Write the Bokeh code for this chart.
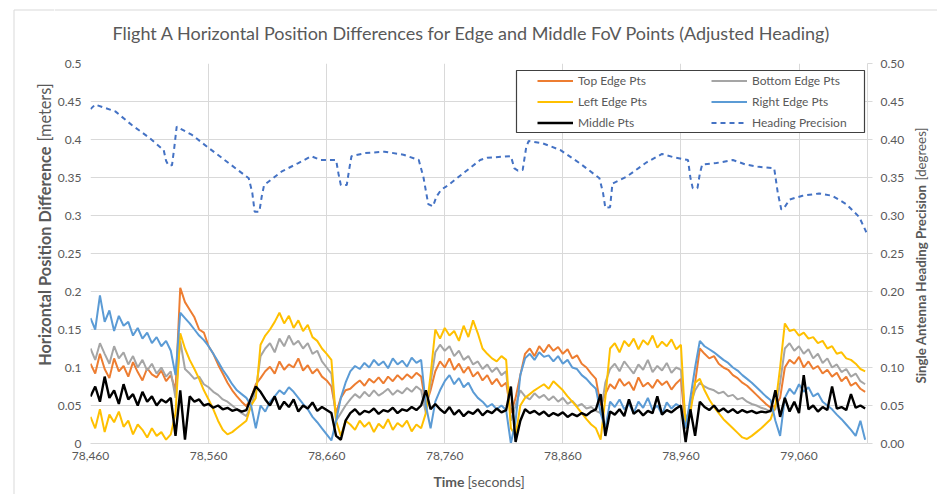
import math
from bokeh.plotting import figure
from bokeh.layouts import column, row
from bokeh.models import (Range1d, LinearAxis, FixedTicker, NumeralTickFormatter,
                          Legend, LegendItem, BoxAnnotation)
from bokeh.core.properties import value
from bokeh.embed import file_html
from bokeh.resources import INLINE

# ---------------- data ----------------
time = list(range(78460, 79117, 4))  # sampling grid [seconds]

top_edge = [
    0.105, 0.092, 0.118, 0.098, 0.086, 0.112, 0.095, 0.102, 0.088, 0.107, 0.094, 0.083, 0.099, 0.091, 0.087, 0.096, 0.082, 0.090,
    0.070,
    0.205, 0.186, 0.176, 0.166, 0.150, 0.146, 0.128, 0.118, 0.104, 0.092, 0.080, 0.070, 0.062, 0.055, 0.049,
    0.060, 0.078,
    0.086, 0.095, 0.101, 0.092, 0.108, 0.097, 0.104, 0.100, 0.112, 0.096, 0.103, 0.092, 0.098, 0.088, 0.083, 0.075,
    0.040, 0.060, 0.070,
    0.072, 0.078, 0.083, 0.076, 0.085, 0.080, 0.087, 0.079, 0.088, 0.082, 0.090, 0.084, 0.091, 0.086, 0.093, 0.088,
    0.050, 0.070,
    0.095, 0.108, 0.100, 0.112, 0.097, 0.105, 0.093, 0.101, 0.088, 0.094, 0.083, 0.090, 0.078, 0.085, 0.075, 0.080,
    0.040, 0.060, 0.090,
    0.118, 0.125, 0.115, 0.128, 0.120, 0.130, 0.122, 0.127, 0.118, 0.124, 0.112, 0.116, 0.105, 0.100, 0.092, 0.085,
    0.050, 0.065,
    0.078, 0.072, 0.085, 0.076, 0.081, 0.070, 0.087, 0.075, 0.080, 0.073, 0.084, 0.077, 0.082, 0.071, 0.079, 0.085,
    0.020, 0.050, 0.080,
    0.125, 0.118, 0.112, 0.115, 0.105, 0.100, 0.097, 0.090, 0.086, 0.080, 0.076, 0.070, 0.064, 0.058, 0.052, 0.047,
    0.050, 0.060,
    0.100, 0.110, 0.105, 0.114, 0.100, 0.108, 0.098, 0.102, 0.092, 0.097, 0.088, 0.093, 0.082, 0.088, 0.076, 0.080, 0.072, 0.068,
]

bottom_edge = [
    0.125, 0.110, 0.132, 0.118, 0.105, 0.128, 0.112, 0.120, 0.104, 0.115, 0.100, 0.110, 0.096, 0.105, 0.092, 0.100, 0.088, 0.095,
    0.060,
    0.135, 0.098, 0.092, 0.085, 0.088, 0.078, 0.074, 0.068, 0.064, 0.058, 0.055, 0.050, 0.045, 0.040, 0.036,
    0.050, 0.070,
    0.115, 0.125, 0.132, 0.120, 0.138, 0.128, 0.142, 0.130, 0.135, 0.125, 0.132, 0.118, 0.122, 0.108, 0.100, 0.092,
    0.030, 0.040, 0.050,
    0.058, 0.065, 0.060, 0.068, 0.062, 0.070, 0.063, 0.067, 0.072, 0.064, 0.070, 0.066, 0.073, 0.068, 0.075, 0.070,
    0.040, 0.080,
    0.120, 0.130, 0.122, 0.128, 0.115, 0.122, 0.110, 0.115, 0.104, 0.108, 0.098, 0.104, 0.094, 0.100, 0.090, 0.095,
    0.030, 0.050, 0.070,
    0.062, 0.058, 0.066, 0.060, 0.064, 0.057, 0.062, 0.055, 0.060, 0.052, 0.056, 0.049, 0.052, 0.046, 0.048, 0.043,
    0.040, 0.080,
    0.098, 0.105, 0.095, 0.108, 0.100, 0.092, 0.104, 0.097, 0.110, 0.094, 0.102, 0.096, 0.106, 0.093, 0.100, 0.097,
    0.030, 0.050, 0.070,
    0.080, 0.075, 0.072, 0.070, 0.066, 0.068, 0.062, 0.064, 0.058, 0.060, 0.055, 0.052, 0.050, 0.047, 0.045, 0.042,
    0.045, 0.080,
    0.125, 0.132, 0.122, 0.128, 0.118, 0.124, 0.112, 0.118, 0.106, 0.112, 0.100, 0.104, 0.094, 0.098, 0.088, 0.092, 0.082, 0.078,
]

left_edge = [
    0.035, 0.020, 0.045, 0.015, 0.038, 0.028, 0.042, 0.022, 0.030, 0.012, 0.025, 0.018, 0.008, 0.020, 0.010, 0.015, 0.005, 0.012,
    0.040,
    0.145, 0.125, 0.110, 0.098, 0.085, 0.070, 0.058, 0.045, 0.030, 0.018, 0.012, 0.015, 0.020, 0.025, 0.030,
    0.050, 0.060,
    0.130, 0.142, 0.150, 0.160, 0.172, 0.158, 0.168, 0.152, 0.162, 0.148, 0.156, 0.140, 0.135, 0.125, 0.118, 0.110,
    0.030, 0.010, 0.030,
    0.025, 0.018, 0.030, 0.022, 0.028, 0.015, 0.026, 0.020, 0.032, 0.018, 0.027, 0.022, 0.030, 0.016, 0.025, 0.020,
    0.040, 0.090,
    0.150, 0.138, 0.152, 0.142, 0.148, 0.135, 0.155, 0.140, 0.162, 0.145, 0.125, 0.118, 0.112, 0.108, 0.115, 0.110,
    0.020, 0.010, 0.050,
    0.060, 0.065, 0.070, 0.074, 0.078, 0.072, 0.082, 0.076, 0.070, 0.062, 0.055, 0.048, 0.040, 0.032, 0.025, 0.020,
    0.005, 0.060,
    0.125, 0.132, 0.120, 0.135, 0.128, 0.138, 0.124, 0.136, 0.130, 0.142, 0.126, 0.134, 0.128, 0.137, 0.124, 0.130,
    0.020, 0.040, 0.080,
    0.085, 0.070, 0.058, 0.048, 0.040, 0.032, 0.026, 0.020, 0.014, 0.008, 0.006, 0.010, 0.015, 0.020, 0.026, 0.032,
    0.050, 0.100,
    0.158, 0.148, 0.150, 0.142, 0.146, 0.138, 0.140, 0.132, 0.135, 0.125, 0.128, 0.118, 0.120, 0.112, 0.110, 0.105, 0.098, 0.095,
]

right_edge = [
    0.165, 0.150, 0.195, 0.160, 0.175, 0.148, 0.168, 0.155, 0.160, 0.142, 0.152, 0.138, 0.146, 0.132, 0.140, 0.128, 0.135, 0.122,
    0.090,
    0.172, 0.165, 0.158, 0.150, 0.142, 0.136, 0.128, 0.118, 0.108, 0.097, 0.088, 0.078, 0.070, 0.065, 0.060,
    0.050, 0.020,
    0.050, 0.042, 0.055, 0.062, 0.070, 0.065, 0.074, 0.068, 0.060, 0.052, 0.045, 0.035, 0.028, 0.020, 0.012, 0.004,
    0.030, 0.060, 0.080,
    0.095, 0.102, 0.098, 0.106, 0.100, 0.110, 0.103, 0.108, 0.099, 0.112, 0.104, 0.109, 0.101, 0.113, 0.106, 0.110,
    0.050, 0.020,
    0.055, 0.070, 0.082, 0.090, 0.078, 0.086, 0.074, 0.080, 0.068, 0.060, 0.055, 0.048, 0.052, 0.045, 0.050, 0.044,
    0.000, 0.030, 0.090,
    0.112, 0.118, 0.110, 0.120, 0.114, 0.116, 0.108, 0.115, 0.105, 0.110, 0.100, 0.098, 0.090, 0.085, 0.078, 0.072,
    0.040, 0.020,
    0.055, 0.048, 0.058, 0.045, 0.052, 0.040, 0.055, 0.047, 0.060, 0.044, 0.050, 0.038, 0.054, 0.046, 0.052, 0.048,
    0.020, 0.060, 0.100,
    0.135, 0.128, 0.124, 0.120, 0.115, 0.110, 0.106, 0.100, 0.096, 0.090, 0.085, 0.080, 0.074, 0.068, 0.062, 0.057,
    0.030, 0.010,
    0.060, 0.072, 0.065, 0.078, 0.068, 0.074, 0.062, 0.066, 0.055, 0.050, 0.045, 0.038, 0.032, 0.025, 0.018, 0.010, 0.030, 0.005,
]

middle = [
    0.062, 0.075, 0.055, 0.088, 0.060, 0.070, 0.052, 0.078, 0.058, 0.065, 0.050, 0.068, 0.055, 0.062, 0.050, 0.058, 0.054, 0.060,
    0.010,
    0.070, 0.005, 0.062, 0.055, 0.058, 0.050, 0.052, 0.047, 0.050, 0.045, 0.047, 0.043, 0.045, 0.042, 0.044,
    0.060, 0.075,
    0.068, 0.058, 0.050, 0.062, 0.045, 0.055, 0.048, 0.058, 0.042, 0.050, 0.046, 0.054, 0.043, 0.048, 0.044, 0.040,
    0.010, 0.005, 0.030,
    0.040, 0.045, 0.038, 0.043, 0.041, 0.046, 0.039, 0.044, 0.042, 0.047, 0.040, 0.045, 0.043, 0.048, 0.044, 0.050,
    0.070, 0.045,
    0.052, 0.045, 0.040, 0.048, 0.038, 0.044, 0.036, 0.042, 0.039, 0.045, 0.037, 0.043, 0.040, 0.046, 0.041, 0.044,
    0.075, 0.002, 0.030,
    0.045, 0.040, 0.043, 0.038, 0.042, 0.036, 0.040, 0.037, 0.041, 0.035, 0.039, 0.036, 0.040, 0.037, 0.042, 0.045,
    0.065, 0.010,
    0.042, 0.038, 0.045, 0.036, 0.058, 0.039, 0.044, 0.037, 0.043, 0.040, 0.062, 0.038, 0.044, 0.041, 0.046, 0.050,
    0.002, 0.045, 0.010,
    0.055, 0.048, 0.044, 0.050, 0.042, 0.046, 0.041, 0.045, 0.040, 0.044, 0.041, 0.043, 0.040, 0.042, 0.041, 0.043,
    0.070, 0.035,
    0.060, 0.042, 0.055, 0.040, 0.090, 0.045, 0.050, 0.042, 0.048, 0.044, 0.075, 0.046, 0.048, 0.044, 0.065, 0.047, 0.050, 0.046,
]

heading_time = [
    78460, 78464, 78481, 78495, 78510, 78522, 78524, 78526, 78529, 78531, 78533,
    78546, 78560, 78577, 78594, 78597, 78599, 78603, 78605, 78607,
    78622, 78636, 78647, 78655, 78668, 78670, 78672, 78677, 78679, 78681,
    78692, 78709, 78725, 78738, 78742, 78746, 78750, 78753, 78757,
    78763, 78776, 78790, 78796, 78816, 78819, 78822, 78826, 78829, 78831,
    78843, 78858, 78875, 78891, 78894, 78896, 78900, 78902,
    78914, 78931, 78944, 78953, 78966, 78968, 78970, 78974, 78976, 78978,
    78990, 79004, 79015, 79026, 79039, 79042, 79045, 79047, 79052,
    79063, 79077, 79088, 79100, 79111, 79117,
]
heading_precision = [
    0.440, 0.446, 0.437, 0.419, 0.402, 0.386, 0.372, 0.366, 0.366, 0.390, 0.417,
    0.406, 0.389, 0.369, 0.349, 0.330, 0.305, 0.305, 0.325, 0.340,
    0.358, 0.369, 0.378, 0.373, 0.373, 0.355, 0.340, 0.340, 0.360, 0.378,
    0.382, 0.384, 0.380, 0.373, 0.350, 0.315, 0.312, 0.325, 0.334,
    0.340, 0.356, 0.373, 0.376, 0.378, 0.362, 0.359, 0.360, 0.390, 0.398,
    0.395, 0.386, 0.368, 0.349, 0.330, 0.310, 0.311, 0.342,
    0.351, 0.370, 0.381, 0.377, 0.373, 0.350, 0.336, 0.336, 0.355, 0.367,
    0.369, 0.373, 0.367, 0.364, 0.362, 0.330, 0.308, 0.309, 0.321,
    0.326, 0.329, 0.326, 0.315, 0.298, 0.278,
]

x_ticks = [78460, 78560, 78660, 78760, 78860, 78960, 79060]
y_ticks = [0, 0.05, 0.1, 0.15, 0.2, 0.25, 0.3, 0.35, 0.4, 0.45, 0.5]
left_tick_labels = ["0", "0.05", "0.1", "0.15", "0.2", "0.25", "0.3", "0.35", "0.4", "0.45", "0.5"]
right_tick_labels = ["0.00", "0.05", "0.10", "0.15", "0.20", "0.25", "0.30", "0.35", "0.40", "0.45", "0.50"]

for s in (top_edge, bottom_edge, left_edge, right_edge, middle):
    assert len(s) == len(time), (len(s), len(time))
assert len(heading_time) == len(heading_precision)

TITLE = "Flight A Horizontal Position Differences for Edge and Middle FoV Points (Adjusted Heading)"

# ---------------- styling ----------------
FONT = "Lato"
TXT = "#595959"
GRID = "#d9d9d9"

p = figure(width=853, height=418, output_backend="svg", toolbar_location=None,
           x_range=Range1d(78460, 79118), y_range=Range1d(0, 0.5),
           min_border_left=34, min_border_right=38, min_border_top=13, min_border_bottom=25)
p.outline_line_color = None
p.background_fill_color = "white"
p.border_fill_color = "white"

xa = p.xaxis[0]
xa.ticker = FixedTicker(ticks=x_ticks)
xa.formatter = NumeralTickFormatter(format="0,0")
xa.axis_line_color = GRID
xa.major_tick_line_color = None
xa.major_tick_out = 0
xa.major_tick_in = 0
xa.minor_tick_line_color = None
xa.minor_tick_out = 0
xa.major_label_text_font = FONT
xa.major_label_text_font_size = "12px"
xa.major_label_text_color = TXT
xa.major_label_standoff = 8

ya = p.yaxis[0]
ya.ticker = FixedTicker(ticks=y_ticks)
ya.major_label_overrides = dict(zip(y_ticks, left_tick_labels))
ya.axis_line_color = None
ya.major_tick_line_color = None
ya.major_tick_out = 0
ya.major_tick_in = 0
ya.minor_tick_line_color = None
ya.minor_tick_out = 0
ya.major_label_text_font = FONT
ya.major_label_text_font_size = "12px"
ya.major_label_text_color = TXT
ya.major_label_standoff = 9

p.extra_y_ranges = {"hp": Range1d(0, 0.5)}
ra = LinearAxis(y_range_name="hp", ticker=FixedTicker(ticks=y_ticks))
ra.major_label_overrides = dict(zip(y_ticks, right_tick_labels))
ra.axis_line_color = GRID
ra.major_tick_line_color = GRID
ra.major_tick_in = 0
ra.major_tick_out = 5
ra.minor_tick_line_color = None
ra.minor_tick_out = 0
ra.major_label_text_font = FONT
ra.major_label_text_font_size = "12px"
ra.major_label_text_color = TXT
ra.major_label_standoff = 8
p.add_layout(ra, "right")

p.xgrid.ticker = FixedTicker(ticks=x_ticks)
p.ygrid.ticker = FixedTicker(ticks=y_ticks)
p.xgrid.grid_line_color = GRID
p.ygrid.grid_line_color = GRID

r_top = p.line(time, top_edge, line_color="#ED7D31", line_width=2.0)
r_bot = p.line(time, bottom_edge, line_color="#A5A5A5", line_width=2.0)
r_left = p.line(time, left_edge, line_color="#FFC000", line_width=2.0)
r_right = p.line(time, right_edge, line_color="#5B9BD5", line_width=2.0)
r_mid = p.line(time, middle, line_color="#000000", line_width=2.4)
r_hp = p.line(heading_time, heading_precision, y_range_name="hp", line_color="#4472C4",
              line_width=2, line_dash="5 4")

# legend frame (drawn separately so the inner spacing can follow the reference)
p.add_layout(BoxAnnotation(left=426, right=774, bottom=311, top=373,
                           left_units="screen", right_units="screen",
                           top_units="screen", bottom_units="screen",
                           fill_color="white", fill_alpha=1,
                           line_color="#404040", line_width=1.2, line_alpha=1))

legend = Legend(items=[
    LegendItem(label="Top Edge Pts", renderers=[r_top]),
    LegendItem(label="Bottom Edge Pts", renderers=[r_bot]),
    LegendItem(label="Left Edge Pts", renderers=[r_left]),
    LegendItem(label="Right Edge Pts", renderers=[r_right]),
    LegendItem(label="Middle Pts", renderers=[r_mid]),
    LegendItem(label="Heading Precision", renderers=[r_hp]),
], orientation="horizontal", ncols=2, location=(447, 312), margin=0,
    padding=0, spacing=4, label_height=17, glyph_height=17, glyph_width=36,
    label_standoff=5, label_width=129,
    label_text_font=FONT, label_text_font_size="12px", label_text_color=TXT,
    border_line_alpha=0, background_fill_alpha=0)
p.add_layout(legend)


# ---------------- strips holding the titles (pixel coordinates) ----------------
def strip(w, h, yr=None):
    f = figure(width=w, height=h, output_backend="svg", toolbar_location=None,
               x_range=Range1d(0, w), y_range=yr if yr is not None else Range1d(0, h),
               x_axis_location=None, y_axis_location=None,
               min_border_left=0, min_border_right=0, min_border_top=0, min_border_bottom=0)
    f.grid.visible = False
    f.outline_line_color = None
    f.background_fill_color = "white"
    f.border_fill_color = "white"
    return f


def put_text(f, x, y, text, align, bold, size, angle=0.0):
    f.text(x=[x], y=[y], text=[text], angle=angle, text_align=align, text_baseline="middle",
           text_font=value(FONT), text_font_size=size,
           text_font_style="bold" if bold else "normal", text_color=TXT)


# left strip: full height of the page (0..494 px, y measured from the bottom)
lf = strip(54, 494)
lf.segment(x0=[13.5], y0=[0], x1=[13.5], y1=[484.5], line_color=GRID, line_width=1)
lf.segment(x0=[13.5], y0=[484.5], x1=[54], y1=[484.5], line_color=GRID, line_width=1)
put_text(lf, 43.5, 348, "Horizontal Position Difference", "right", True, "16.3px", math.pi / 2)
put_text(lf, 43.5, 353, "[meters]", "left", False, "16.3px", math.pi / 2)

# title strip
tf = strip(883, 50)
tf.segment(x0=[0], y0=[40.5], x1=[883], y1=[40.5], line_color=GRID, line_width=1)
put_text(tf, 417.5, 18, TITLE, "center", False, "18px")

# right strip (same vertical scale as the main plot)
rf = strip(30, 418, yr=Range1d(0, 0.5))
put_text(rf, 13, 0.3408, "Single Antenna Heading Precision", "right", True, "13.3px", math.pi / 2)
put_text(rf, 13, 0.3461, "[degrees]", "left", False, "13.3px", math.pi / 2)

# bottom strip
bf = strip(883, 26)
put_text(bf, 410, 13, "Time", "right", True, "14px")
put_text(bf, 413, 13, "[seconds]", "left", False, "14px")

layout = row(lf, column(tf, row(p, rf, spacing=0), bf, spacing=0), spacing=0)

open("out.html", "w").write(file_html(layout, INLINE))
